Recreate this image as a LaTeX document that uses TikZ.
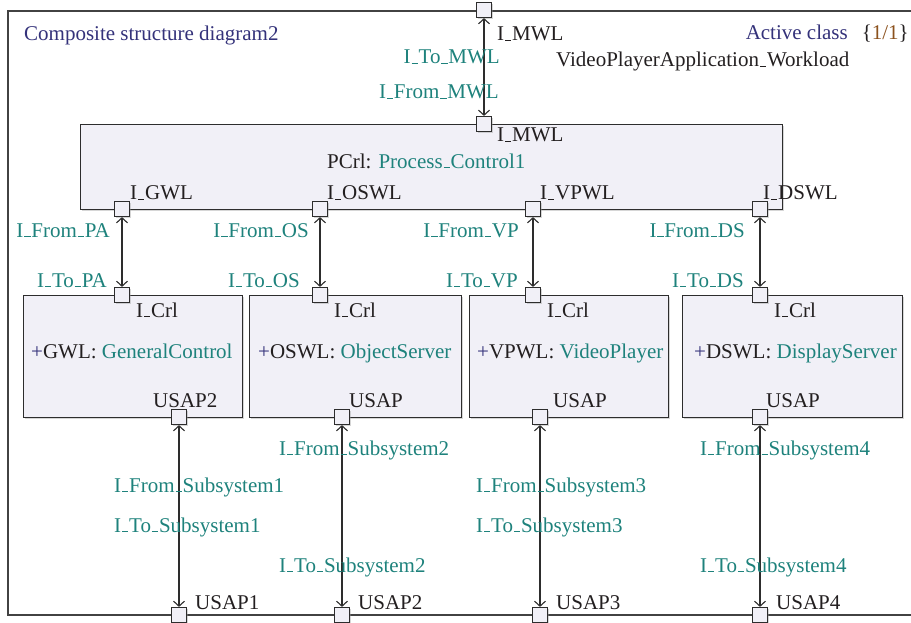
\documentclass[tikz,border=0pt]{standalone}
\usepackage{fontspec}
\setmainfont{Liberation Serif}
\usepackage{tikz}
\usetikzlibrary{positioning, shapes, arrows.meta, shadows}

\definecolor{ink}{RGB}{35,31,32}
\definecolor{umlteal}{RGB}{30,130,124}
\definecolor{umlblue}{RGB}{52,50,122}
\definecolor{umlbrown}{RGB}{140,82,30}
\definecolor{partfill}{RGB}{241,240,247}
\definecolor{edge}{RGB}{45,45,45}

% short low underscore
\newcommand{\usc}{\leavevmode\kern.04em\rule{.3em}{.07em}\kern.04em}

\tikzset{
  frame/.style={draw=edge!90, line width=1.4pt},
  part/.style={draw=edge, fill=partfill, line width=1.2pt, inner sep=0pt,
    drop shadow={shadow xshift=1.5pt, shadow yshift=-1.5pt, fill=black!40, opacity=.4}},
  port/.style={part, minimum size=15pt},
  lbl/.style={inner sep=0pt, anchor=base west},
  msg/.style={lbl, text=umlteal},
  link/.style={<->, draw=edge, line width=1.1pt}
}

\begin{document}
\begin{tikzpicture}[x=1pt, y=-1pt, >={Straight Barb[length=5pt,width=11pt]},
    font=\fontsize{21}{25}\selectfont, text=ink]
    \useasboundingbox (0,0) rectangle (911,623);

    % enclosing structure
    \draw[frame] (911,11) -- (8,11) -- (8,615) -- (911,615);
    \node[lbl, text=umlblue] (title) at (24,41) {Composite structure diagram2};
    \node[lbl, anchor=base east, text=umlblue] (kind) at (848,40) {Active class};
    \node[lbl, anchor=base east] (count) at (909,40) {\{\textcolor{umlbrown}{1/1}\}};
    \node[lbl] (wl) at (556,67) {VideoPlayerApplication\usc Workload};

    % process control part
    \node[part, anchor=north west, minimum width=702pt, minimum height=85pt] (pcrl) at (80,124) {};
    \node[lbl] (pcrl-name) at (327,168) {PCrl: \textcolor{umlteal}{Process\usc Control1}};

    % workload parts
    \foreach \n/\x/\w/\tx/\role/\type in {gwl/23/219/31/GWL/GeneralControl,
        oswl/249/212/258/OSWL/ObjectServer, vpwl/469/199/477/VPWL/VideoPlayer,
        dswl/682/220/694/DSWL/DisplayServer}
    {
        \node[part, anchor=north west, minimum width=\w pt, minimum height=122pt] (\n) at (\x,295) {};
        \node[lbl] (\n-name) at (\tx,358) {\textcolor{umlblue}{+}\role: \textcolor{umlteal}{\type}};
    }

    % main workload port
    \node[port] (mwl) at (484,10) {};
    \node[port] (pcrl-mwl) at (484,124) {};
    \draw[link] (mwl) -- (pcrl-mwl);
    \node[lbl] (mwl-lbl) at (497,41) {I\usc MWL};
    \node[lbl] (pcrl-mwl-lbl) at (497,142) {I\usc MWL};
    \node[msg, anchor=base east] (to-mwl) at (500,64) {I\usc To\usc MWL};
    \node[msg, anchor=base east] (from-mwl) at (499,99) {I\usc From\usc MWL};

    % control links
    \foreach \n/\x/\px/\pl/\ab/\fx/\tx in {gwl/122/130/GWL/PA/110/107,
        oswl/320/327/OSWL/OS/309/300, vpwl/533/540/VPWL/VP/519/518,
        dswl/760/763/DSWL/DS/745/744}
    {
        \node[port] (pcrl-\n) at (\x,209) {};
        \node[port] (\n-crl) at (\x,295) {};
        \draw[link] (pcrl-\n) -- (\n-crl);
        \node[lbl] (pcrl-\n-lbl) at (\px,200) {I\usc\pl};
        \node[lbl] (\n-crl-lbl) at (\x+14,317) {I\usc Crl};
        \node[msg, anchor=base east] (from-\ab) at (\fx,237) {I\usc From\usc\ab};
        \node[msg, anchor=base east] (to-\ab) at (\tx,287) {I\usc To\usc\ab};
    }

    % service access points
    \foreach \n/\x/\k/\ul/\ux/\fy/\ty/\lx in {gwl/179/1/USAP2/153/492/532/114,
        oswl/342/2/USAP/349/455/572/279, vpwl/540/3/USAP/553/492/532/476,
        dswl/760/4/USAP/766/455/572/700}
    {
        \node[port] (\n-usap) at (\x,417) {};
        \node[port] (usap\k) at (\x,615) {};
        \draw[link] (\n-usap) -- (usap\k);
        \node[lbl] (\n-usap-lbl) at (\ux,407) {\ul};
        \node[lbl] (usap\k-lbl) at (\x+16,609) {USAP\k};
        \node[msg] (from-sub\k) at (\lx,\fy) {I\usc From\usc Subsystem\k};
        \node[msg] (to-sub\k) at (\lx,\ty) {I\usc To\usc Subsystem\k};
    }
\end{tikzpicture}
\end{document}
